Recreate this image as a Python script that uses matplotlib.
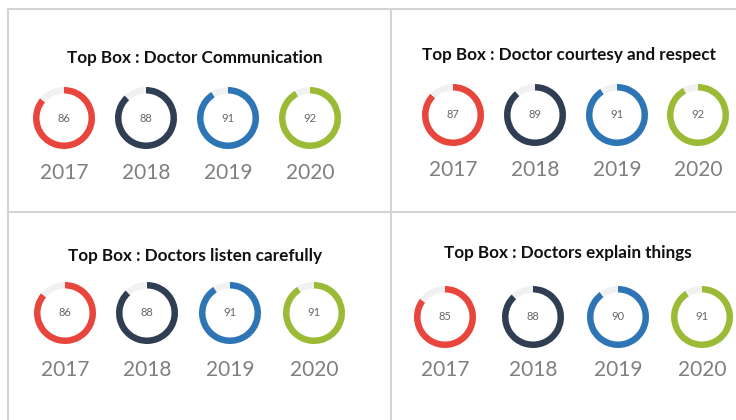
import matplotlib.pyplot as plt

# data
years = ["2017", "2018", "2019", "2020"]
titles = [
    "Top Box : Doctor Communication",
    "Top Box : Doctor courtesy and respect",
    "Top Box : Doctors listen carefully",
    "Top Box : Doctors explain things",
]
communication = [86, 88, 91, 92]
courtesy = [87, 89, 91, 92]
listen = [86, 88, 91, 91]
explain = [85, 88, 90, 91]
panel_values = [communication, courtesy, listen, explain]

colors = ["#E8453C", "#2F3E53", "#2E75B6", "#9BBB36"]
track = "#F1F1F1"
W, H = 736, 420

# layout (pixel coords, y measured from top)
ring_x = [
    [64, 146, 228, 310],
    [453, 535, 617, 698],
    [65, 147, 230, 314],
    [445, 533, 618, 702],
]
ring_y = [118, 115, 313, 317]
year_y = [173, 170, 370, 370]
title_xy = [(195, 58), (569, 55), (195, 256), (568, 253)]

fig = plt.figure(figsize=(W / 100, H / 100), dpi=100)
ax = fig.add_axes([0, 0, 1, 1])

for p, vals in enumerate(panel_values):
    cy = H - ring_y[p]
    for i, v in enumerate(vals):
        cx = ring_x[p][i]
        ax.pie([v, 100 - v], colors=[colors[i], track], startangle=90,
               counterclock=False, center=(cx, cy), radius=31,
               wedgeprops=dict(width=6.5, linewidth=0))
        ax.text(cx, cy, str(v), ha="center", va="center", fontsize=8,
                color="#666666", family="Lato")
        ax.text(cx, H - year_y[p], years[i], ha="center", va="center",
                fontsize=15, color="#7f7f7f", family="Lato")
    tx, ty = title_xy[p]
    ax.text(tx, H - ty, titles[p], ha="center", va="center", fontsize=12.3,
            fontweight="bold", color="#111111", family="Lato")

# panel borders
line_kw = dict(color="#d4d4d4", linewidth=1.5)
ax.plot([8, W], [H - 9, H - 9], **line_kw)
ax.plot([8, 8], [0, H - 9], **line_kw)
ax.plot([391, 391], [0, H - 9], **line_kw)
ax.plot([8, W], [H - 212, H - 212], **line_kw)

ax.set_xlim(0, W)
ax.set_ylim(0, H)
ax.axis("off")
fig.savefig("out.png", dpi=100)
